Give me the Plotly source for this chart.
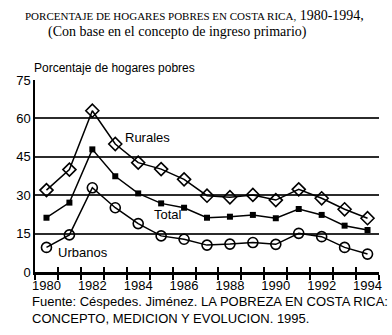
import plotly.graph_objects as go

years = list(range(1980, 1995))
rurales = [32, 40, 63, 50, 42.7, 40.2, 36.2, 29.8, 29.2, 30.1, 28.1, 32.3, 28.8, 24.5, 21]
total = [21.2, 27.1, 47.9, 37.4, 30.7, 26.8, 25.1, 21.2, 21.6, 22.3, 21, 24.6, 22.3, 18.1, 16.4]
urbanos = [9.6, 14.5, 32.9, 25.1, 18.9, 14.1, 12.8, 10.5, 10.9, 11.5, 10.8, 15.1, 13.8, 9.6, 7]
ytick_vals = [0, 15, 30, 45, 60, 75]
xtick_vals = [1980, 1982, 1984, 1986, 1988, 1990, 1992, 1994]

fig = go.Figure()
line = dict(color="black", width=1.5)
fig.add_trace(go.Scatter(x=years, y=rurales, mode="lines+markers", line=line,
                         marker=dict(symbol="diamond-open", size=10, color="black", line=dict(width=1.6)),
                         name="Rurales"))
fig.add_trace(go.Scatter(x=years, y=total, mode="lines+markers", line=line,
                         marker=dict(symbol="square", size=6, color="black"),
                         name="Total"))
fig.add_trace(go.Scatter(x=years, y=urbanos, mode="lines+markers", line=line,
                         marker=dict(symbol="circle-open", size=10, color="black", line=dict(width=1.6)),
                         name="Urbanos"))
# invisible trace for second x axis (ticks inside)
fig.add_trace(go.Scatter(x=[years[0]], y=[0], xaxis="x2", mode="markers",
                         marker=dict(opacity=0), showlegend=False, hoverinfo="skip"))

lab_font = dict(family="Liberation Sans, Arial, sans-serif", size=13, color="black")
fig.add_annotation(x=1984.4, y=52.7, text="Rurales", showarrow=False, font=lab_font)
fig.add_annotation(x=1985.3, y=22.3, text="Total", showarrow=False, font=lab_font)
fig.add_annotation(x=1981.6, y=7.8, text="Urbanos", showarrow=False, font=lab_font)

serif = "Liberation Serif, Times New Roman, serif"
fig.add_annotation(xref="paper", yref="paper", x=0.465, y=1, yshift=65, xanchor="center", yanchor="middle",
                   text="<span style='font-size:11px'>PORCENTAJE DE HOGARES POBRES EN COSTA RICA,</span> 1980-1994,",
                   showarrow=False, font=dict(family=serif, size=14, color="black"))
fig.add_annotation(xref="paper", yref="paper", x=0.415, y=1, yshift=48, xanchor="center", yanchor="middle",
                   text="(Con base en el concepto de ingreso primario)",
                   showarrow=False, font=dict(family=serif, size=14, color="black"))
fig.add_annotation(xref="paper", yref="paper", x=0, y=1, xshift=-3, yshift=12, xanchor="left", yanchor="middle",
                   text="Porcentaje de hogares pobres", showarrow=False,
                   font=dict(family="Liberation Sans, Arial, sans-serif", size=12, color="black"))
fig.add_annotation(xref="paper", yref="paper", x=0, y=0, xshift=-5, yshift=-20, xanchor="left", yanchor="top",
                   align="left",
                   text="Fuente: Céspedes. Jiménez. LA POBREZA EN COSTA RICA:<br>CONCEPTO, MEDICION Y EVOLUCION. 1995.",
                   showarrow=False,
                   font=dict(family="Liberation Sans, Arial, sans-serif", size=13, color="black"))

fig.update_layout(
    width=392, height=335,
    margin=dict(l=35, r=10, t=80, b=63),
    paper_bgcolor="white", plot_bgcolor="white",
    showlegend=False,
    font=dict(family="Liberation Sans, Arial, sans-serif", size=12, color="black"),
    xaxis=dict(range=[1979.5, 1994.5], tickvals=xtick_vals, ticks="outside", ticklen=0,
               showgrid=False, zeroline=False, showline=True, linecolor="black", linewidth=2.5,
               minor=dict(tick0=1979.5, dtick=1, ticks="outside", ticklen=5, tickwidth=2, tickcolor="black"),
               tickfont=dict(size=13), fixedrange=True),
    xaxis2=dict(range=[1979.5, 1994.5], overlaying="x", anchor="y", side="bottom",
                tickmode="linear", tick0=1979.5, dtick=1, ticks="inside", ticklen=5, tickwidth=2,
                tickcolor="black", showticklabels=False, showgrid=False, zeroline=False, showline=False),
    yaxis=dict(range=[0, 75], tickvals=ytick_vals, showgrid=True, gridcolor="#2b2b2b", gridwidth=1.5,
               zeroline=False, showline=True, linecolor="black", linewidth=1.5,
               ticks="", tickfont=dict(size=13), fixedrange=True),
)
fig.write_html("out.html")
